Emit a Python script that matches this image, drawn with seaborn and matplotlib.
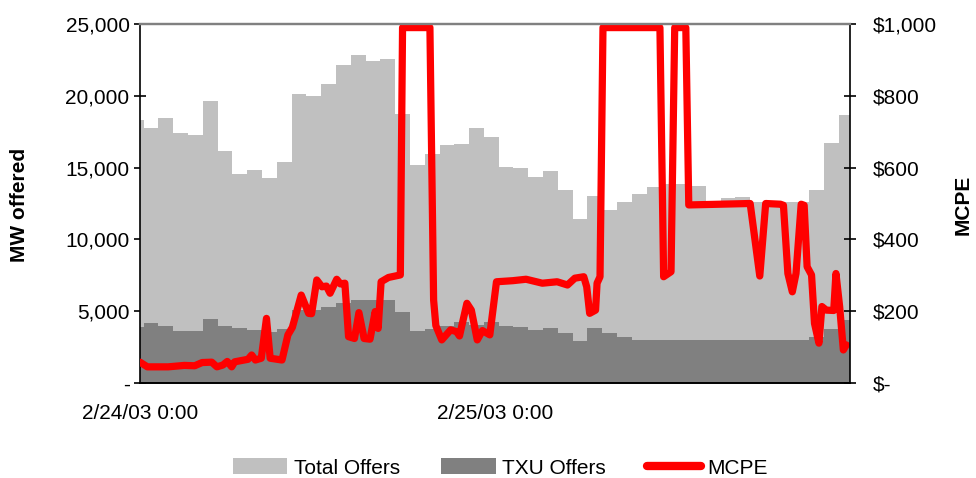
import numpy as np
import pandas as pd
import matplotlib
matplotlib.use("Agg")
import matplotlib.pyplot as plt
from matplotlib.patches import Patch
from matplotlib.lines import Line2D
import seaborn as sns

# Hourly offer volumes (MW); first and last blocks are partial hours
total_offers = [18300, 17750, 18430, 17390, 17270, 19640, 16150, 14560, 14830, 14280,
                15390, 20130, 19990, 20820, 22150, 22840, 22430, 22560, 18710, 15180,
                15950, 16570, 16640, 17760, 17130, 15070, 14970, 14350, 14760, 13440,
                11420, 13020, 12050, 12580, 13160, 13650, 13860, 13860, 13720, 12700,
                12860, 12930, 12630, 12630, 12630, 12630, 13440, 16730, 18660]
txu_offers = [3920, 4150, 3990, 3620, 3620, 4460, 3990, 3850, 3690, 3530,
              3760, 5080, 5080, 5320, 5600, 5780, 5780, 5780, 4940, 3620,
              3760, 3990, 4230, 4040, 4270, 3990, 3920, 3690, 3810, 3500,
              2950, 3810, 3470, 3230, 2990, 2990, 2990, 2990, 2990, 2990,
              2990, 2990, 2990, 2990, 2990, 2990, 3230, 3760, 4390]

# Market clearing price for energy ($/MWh), hours after 2/24/03 0:00
mcpe_hours = [0.0, 0.5, 1.9, 3.0, 3.7, 4.2, 4.85, 5.2, 5.6, 5.9, 6.2, 6.4, 7.3, 7.55,
              7.8, 8.2, 8.55, 8.8, 9.6, 10.0, 10.3, 10.9, 11.4, 11.6, 11.95, 12.3,
              12.6, 12.85, 13.3, 13.55, 13.85, 14.1, 14.5, 14.8, 15.15, 15.55, 15.9,
              16.1, 16.3, 16.8, 17.6, 17.75, 19.6, 19.85, 20.0, 20.4, 21.0, 21.4,
              21.6, 22.1, 22.4, 22.8, 23.15, 23.65, 24.1, 25.2, 26.1, 27.2, 28.2,
              28.9, 29.4, 30.0, 30.2, 30.4, 30.8, 30.9, 31.1, 31.3, 35.15, 35.4,
              35.9, 36.15, 36.9, 37.1, 41.25, 41.9, 42.3, 43.3, 43.5, 43.8, 44.1,
              44.35, 44.7, 44.9, 45.1, 45.4, 45.6, 45.9, 46.1, 46.4, 46.9, 47.05,
              47.3, 47.55, 47.75]
mcpe_price = [58, 45, 45, 49, 48, 57, 58, 45, 50, 60, 45, 59, 66, 78,
              64, 69, 180, 69, 64, 134, 155, 245, 194, 193, 287, 268,
              270, 250, 289, 276, 278, 129, 124, 196, 124, 122, 199,
              152, 282, 294, 301, 990, 990, 231, 160, 120, 148, 143,
              131, 222, 203, 120, 146, 134, 282, 285, 289, 278, 282,
              273, 292, 296, 268, 194, 203, 278, 296, 990, 990, 296,
              310, 990, 990, 496, 500, 298, 500, 498, 495, 305, 254,
              305, 498, 495, 324, 301, 166, 111, 213, 203, 202, 305,
              213, 92, 106]

x_tick_hours = [0, 6, 12, 18, 24, 30, 36, 42, 48]
x_tick_labels = ["2/24/03 0:00", "", "", "", "2/25/03 0:00", "", "", "", ""]
mw_ticks = [0, 5000, 10000, 15000, 20000, 25000]
mw_tick_labels = ["-", "5,000", "10,000", "15,000", "20,000", "25,000"]
price_ticks = [0, 200, 400, 600, 800, 1000]
price_tick_labels = ["$-", "$200", "$400", "$600", "$800", "$1,000"]

sns.set_style("white")
plt.rcParams["font.family"] = ["Liberation Sans", "DejaVu Sans"]
plt.rcParams["text.color"] = "black"
plt.rcParams["axes.labelcolor"] = "black"
plt.rcParams["xtick.color"] = "black"
plt.rcParams["ytick.color"] = "black"

light_gray = "#C0C0C0"
dark_gray = "#808080"
red = "#FF0000"

fig = plt.figure(figsize=(9.76, 4.78), dpi=100)
ax = fig.add_axes([140 / 976, 1 - 383 / 478, 710 / 976, 359 / 478])

# hourly blocks change at quarter past each hour
edges = np.concatenate([[0.0], np.arange(0.25, 48.0, 1.0), [48.0]])
ax.stairs(total_offers, edges, fill=True, color=light_gray, linewidth=0)
ax.stairs(txu_offers, edges, fill=True, color=dark_gray, linewidth=0)

ax.set_xlim(0, 48)
ax.set_ylim(0, 25000)
ax.set_xticks(x_tick_hours)
ax.set_xticklabels(x_tick_labels)
ax.set_yticks(mw_ticks)
ax.set_yticklabels(mw_tick_labels)
ax.tick_params(axis="y", direction="inout", length=9, width=1.2, pad=3,
               labelsize=15, colors="black", labelcolor="black")
ax.tick_params(axis="x", direction="out", length=6, width=1.2, pad=9,
               labelsize=15, colors="black", labelcolor="black")
ax.set_xlabel("")
ax.set_ylabel("")

ax2 = ax.twinx()
mcpe = pd.DataFrame({"hour": mcpe_hours, "price": mcpe_price})
sns.lineplot(data=mcpe, x="hour", y="price", ax=ax2, color=red, linewidth=5.2,
             solid_joinstyle="round", solid_capstyle="round", clip_on=True)
ax2.set_ylim(0, 1000)
ax2.set_xlim(0, 48)
ax2.set_yticks(price_ticks)
ax2.set_yticklabels(price_tick_labels)
ax2.tick_params(axis="y", direction="inout", length=9, width=1.2, pad=12,
                labelsize=15, colors="black", labelcolor="black")
ax2.set_xlabel("")
ax2.set_ylabel("")

for a in (ax, ax2):
    for side in ("left", "right", "bottom"):
        a.spines[side].set_color("black")
        a.spines[side].set_linewidth(1.2)
    a.spines["top"].set_color(dark_gray)
    a.spines["top"].set_linewidth(1.6)
ax.spines["right"].set_visible(False)
ax2.spines["left"].set_visible(False)

fig.text(20 / 976, 1 - 205 / 478, "MW offered", rotation=90, ha="center",
         va="center", fontsize=15, fontweight="bold", color="black")
fig.text(963 / 976, 1 - 205 / 478, "MCPE", rotation=90, ha="center",
         va="center", fontsize=15, fontweight="bold", color="black")

handles = [Patch(facecolor=light_gray, edgecolor="none"),
           Patch(facecolor=dark_gray, edgecolor="none"),
           Line2D([0], [0], color=red, linewidth=6, solid_capstyle="round")]
leg = fig.legend(handles, ["Total Offers", "TXU Offers", "MCPE"], loc="center",
                 bbox_to_anchor=(0.513, 1 - 468 / 478), ncol=3, frameon=False,
                 fontsize=15, handlelength=2.6, handleheight=0.8, handletextpad=0.3,
                 columnspacing=2.0)
for t in leg.get_texts():
    t.set_color("black")

fig.savefig("out.png", dpi=100)
